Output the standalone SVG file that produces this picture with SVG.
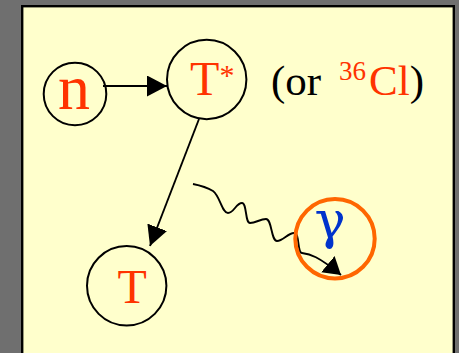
<svg xmlns="http://www.w3.org/2000/svg" width="459" height="353" viewBox="0 0 459 353">
<style>
.node{fill:none;stroke:#000;stroke-width:2}
.lbl{font-family:"Liberation Serif","Times New Roman",serif;fill:#ff3300}
.conn{fill:none;stroke:#000;stroke-width:1.9}
</style>
<defs>
<marker id="ah" markerUnits="userSpaceOnUse" markerWidth="20" markerHeight="21" refX="20" refY="10.5" orient="auto">
<path d="M0,0 L20,10.5 L0,21 z" fill="#000"/>
</marker>
<marker id="ah2" markerUnits="userSpaceOnUse" markerWidth="17" markerHeight="21" refX="17" refY="10.5" orient="auto">
<path d="M0,0 L17,10.5 L0,21 z" fill="#000"/>
</marker>
</defs>
<rect x="0" y="0" width="459" height="353" fill="#6f6f6f"/>
<rect x="22.2" y="6.2" width="431.6" height="360" fill="#ffffcc" stroke="#000" stroke-width="2.4"/>
<g id="connectors">
<line class="conn" x1="103" y1="86" x2="167" y2="86" marker-end="url(#ah)"/>
<line class="conn" x1="199" y1="119" x2="150" y2="246" marker-end="url(#ah)"/>
<path class="conn" d="M193,184 C203,186 208,188 213,191 C220,196 222,213 228,213 C234,213 236,203 242,203 C247,203 245,223 250,223 C256,223 260,219 266,219 C272,219 271,241 277,241 C283,241 288,233 294,233 C300,233 297,253 302,253 C310,254 318,256 341,275" marker-end="url(#ah2)"/>
</g>
<g id="node-n">
<circle class="node" cx="75" cy="94" r="31.3"/>
<text class="lbl" x="58" y="109" font-size="64">n</text>
</g>
<g id="node-tstar">
<circle class="node" cx="206.7" cy="79.5" r="39.7"/>
<text class="lbl" x="190" y="95" font-size="48">T<tspan font-size="30" x="219.5" y="85">*</tspan></text>
</g>
<g id="note">
<text x="271" y="95" font-family="'Liberation Serif','Times New Roman',serif" font-size="43" fill="#000">(or <tspan x="339" y="80" font-size="27" fill="#ff3300">36</tspan><tspan x="369" y="95" fill="#ff3300">Cl</tspan>)</text>
</g>
<g id="node-t">
<circle class="node" cx="126.7" cy="285.8" r="39.7"/>
<text class="lbl" x="117.5" y="303" font-size="48">T</text>
</g>
<g id="node-gamma">
<circle cx="335" cy="238.7" r="39.7" fill="none" stroke="#ff6600" stroke-width="4"/>
<text x="330" y="238" text-anchor="middle" font-family="'DejaVu Serif',serif" font-size="52" fill="#0033cc">γ</text>
</g>
</svg>
